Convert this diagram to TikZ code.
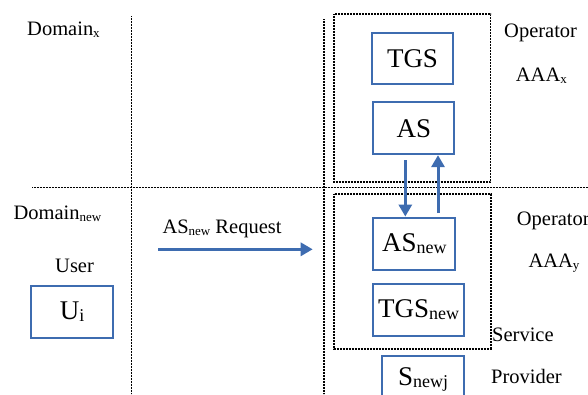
\documentclass[tikz,border=0pt]{standalone}
\usepackage{fontspec}
\setmainfont{Liberation Serif}
\usetikzlibrary{arrows.meta}
\definecolor{bl}{RGB}{62,108,176}
\newcommand\subS[1]{\raisebox{-0.12em}{\fontsize{13}{15}\selectfont #1}}
\newcommand\subB[1]{\raisebox{-0.08em}{\fontsize{18}{20}\selectfont #1}}
\begin{document}
\begin{tikzpicture}[x=1pt,y=-1pt,
  dline/.style={line width=1.5pt, dash pattern=on 0.9pt off 0.6pt, black},
  bbox/.style={draw=bl, line width=2.2pt, fill=white, inner sep=0pt,
    font=\fontsize{27}{30}\selectfont},
  lab/.style={font=\fontsize{20.5}{24}\selectfont, inner sep=0pt, anchor=base west},
  arr/.style={draw=bl, line width=3pt, -{Triangle[length=12pt,width=13pt]}}]
\clip (0,0) rectangle (588,394);
\fill[white] (0,0) rectangle (588,394);
% grid lines
\draw[dline] (131.5,16) -- (131.5,394);
\draw[dline] (324,19) -- (324,394);
\draw[dline] (32,187.3) -- (588,187.3);
% dotted operator boxes
\draw[dline] (334,14) rectangle (490.7,182);
\draw[dline] (334,194) rectangle (491,349);
% blue boxes
\node[bbox, minimum width=81.6pt, minimum height=51.6pt] (tgs) at (412.5,58.5) {TGS};
\node[bbox, minimum width=81pt, minimum height=51.7pt] (as) at (413.8,128.2) {AS};
\node[bbox, minimum width=82pt, minimum height=52.3pt] (asn) at (414.3,243.8) {AS\subB{new}};
\node[bbox, minimum width=90.4pt, minimum height=52pt] (tgsn) at (418.5,309.7) {TGS\subB{new}};
\node[bbox, minimum width=81.7pt, minimum height=52pt, text depth=12pt, text height=18pt] (snj) at (423.2,382) {S\subB{newj}};
\node[bbox, minimum width=81.4pt, minimum height=51.7pt] (ui) at (72,311.8) {U\subB{i}};
% arrows
\coordinate (d1) at (405.3,160);
\coordinate (u1) at (438,213);
\draw[arr] (d1) -- (d1 |- asn.north);
\draw[arr] (u1) -- (u1 |- as.south);
\coordinate (r1) at (158.3,249.3);
\coordinate (r2) at (312.7,249.3);
\draw[arr] (r1) -- (r2);
% labels
\node[lab] (domx) at (27,35) {Domain\subS{x}};
\node[lab] (op1) at (504,37) {Operator};
\node[lab] (aaax) at (515.7,81) {AAA\subS{x}};
\node[lab] (domn) at (13.3,219) {Domain\subS{new}};
\node[lab] (req) at (162.3,233) {AS\subS{new} Request};
\node[lab] (user) at (55,272) {User};
\node[lab] (op2) at (516.7,225) {Operator};
\node[lab] (aaay) at (528.3,267.3) {AAA\subS{y}};
\node[lab] (serv) at (492,341.7) {Service};
\node[lab] (prov) at (491,383.3) {Provider};
\end{tikzpicture}
\end{document}
